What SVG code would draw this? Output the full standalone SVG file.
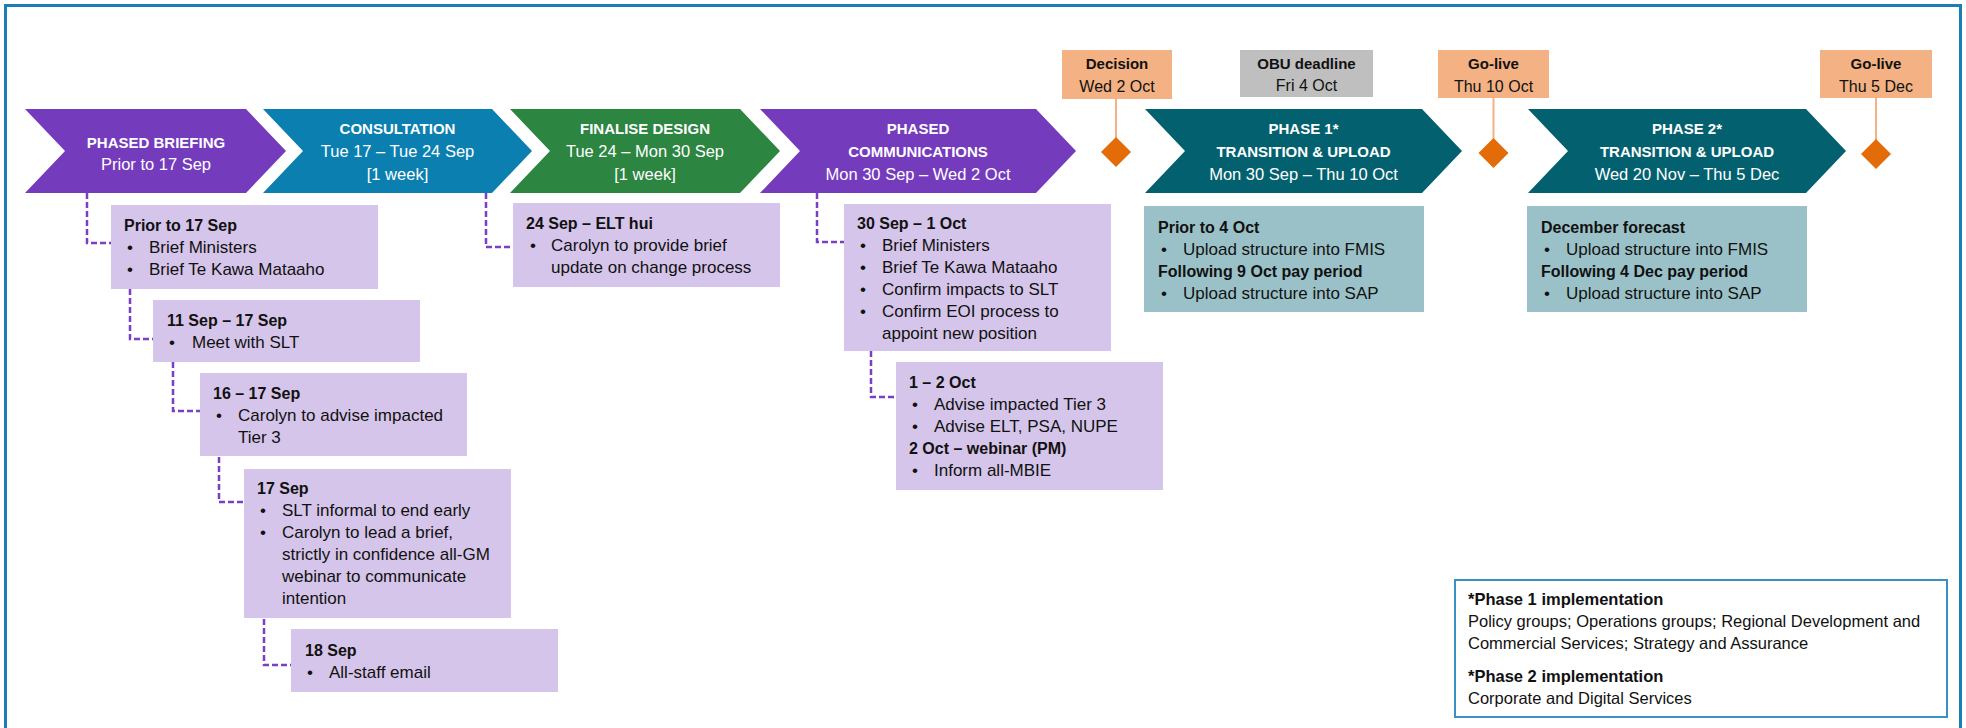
<svg xmlns="http://www.w3.org/2000/svg" width="1966" height="728" viewBox="0 0 1966 728">
<defs>
<style>
text{font-family:"Liberation Sans",Arial,sans-serif;}
.ch{fill:#fff;text-anchor:middle;}
.cht{font-weight:bold;font-size:15px;}
.chd{font-size:16.5px;}
.bx{fill:#d5c5ea;}
.tb{fill:#9bc1c8;}
.bt{font-weight:bold;font-size:16px;fill:#111;}
.bl{font-size:17px;fill:#111;}
.ms{fill:#f4b183;}
.mt{font-weight:bold;font-size:15px;fill:#111;text-anchor:middle;}
.md{font-size:16px;fill:#111;text-anchor:middle;}
.dash{fill:none;stroke:#7b3fc6;stroke-width:2.5;stroke-dasharray:6 3;}
.ml{stroke:#f4b183;stroke-width:2;}
.dia{fill:#e36c09;}
.lt{font-size:16.5px;fill:#111;}
</style>
</defs>
<rect x="5.5" y="5.5" width="1955" height="760" fill="#fff" stroke="#1a7fb5" stroke-width="3"/>

<g id="connectors">
<path class="dash" d="M87,193 V243 H111"/>
<path class="dash" d="M130,289 V339 H153"/>
<path class="dash" d="M173,362 V411 H200"/>
<path class="dash" d="M219,457 V502 H244"/>
<path class="dash" d="M264,619 V665 H291"/>
<path class="dash" d="M486,193 V247 H513"/>
<path class="dash" d="M817,193 V242 H844"/>
<path class="dash" d="M871,351 V397 H896"/>
<line class="ml" x1="1116" y1="99" x2="1116" y2="138"/>
<line class="ml" x1="1493.5" y1="98" x2="1493.5" y2="139"/>
<line class="ml" x1="1876" y1="98" x2="1876" y2="140"/>
</g>

<g id="chev-briefing">
<polygon points="25,109 246,109 286,151 246,193 25,193 65,151" fill="#753bbd"/>
<text class="ch cht" x="156" y="148">PHASED BRIEFING</text>
<text class="ch chd" x="156" y="170">Prior to 17 Sep</text>
</g>
<g id="chev-consultation">
<polygon points="263,109 492,109 532,151 492,193 263,193 303,151" fill="#0a7fb0"/>
<text class="ch cht" x="397.5" y="134">CONSULTATION</text>
<text class="ch chd" x="397.5" y="157">Tue 17 – Tue 24 Sep</text>
<text class="ch chd" x="397.5" y="180">[1 week]</text>
</g>
<g id="chev-finalise">
<polygon points="510,109 740,109 780,151 740,193 510,193 550,151" fill="#2c8540"/>
<text class="ch cht" x="645" y="134">FINALISE DESIGN</text>
<text class="ch chd" x="645" y="157">Tue 24 – Mon 30 Sep</text>
<text class="ch chd" x="645" y="180">[1 week]</text>
</g>
<g id="chev-comms">
<polygon points="760,109 1036,109 1076,151 1036,193 760,193 800,151" fill="#753bbd"/>
<text class="ch cht" x="918" y="134">PHASED</text>
<text class="ch cht" x="918" y="157">COMMUNICATIONS</text>
<text class="ch chd" x="918" y="180">Mon 30 Sep – Wed 2 Oct</text>
</g>
<g id="chev-phase1">
<polygon points="1145,109 1422,109 1462,151 1422,193 1145,193 1185,151" fill="#03616f"/>
<text class="ch cht" x="1303.5" y="134">PHASE 1*</text>
<text class="ch cht" x="1303.5" y="157">TRANSITION &amp; UPLOAD</text>
<text class="ch chd" x="1303.5" y="180">Mon 30 Sep – Thu 10 Oct</text>
</g>
<g id="chev-phase2">
<polygon points="1528,109 1806,109 1846,151 1806,193 1528,193 1568,151" fill="#03616f"/>
<text class="ch cht" x="1687" y="134">PHASE 2*</text>
<text class="ch cht" x="1687" y="157">TRANSITION &amp; UPLOAD</text>
<text class="ch chd" x="1687" y="180">Wed 20 Nov – Thu 5 Dec</text>
</g>

<g id="ms-decision">
<rect class="ms" x="1062" y="50" width="110" height="49"/>
<text class="mt" x="1117" y="69">Decision</text>
<text class="md" x="1117" y="92">Wed 2 Oct</text>
<polygon class="dia" points="1116,137 1131,152 1116,167 1101,152"/>
</g>
<g id="ms-obu">
<rect x="1240" y="50" width="133" height="47" fill="#bfbfbf"/>
<text class="mt" x="1306.5" y="69">OBU deadline</text>
<text class="md" x="1306.5" y="91">Fri 4 Oct</text>
</g>
<g id="ms-golive1">
<rect class="ms" x="1438" y="50" width="111" height="48"/>
<text class="mt" x="1493.5" y="69">Go-live</text>
<text class="md" x="1493.5" y="92">Thu 10 Oct</text>
<polygon class="dia" points="1493.5,138 1508.5,153 1493.5,168 1478.5,153"/>
</g>
<g id="ms-golive2">
<rect class="ms" x="1820" y="50" width="112" height="48"/>
<text class="mt" x="1876" y="69">Go-live</text>
<text class="md" x="1876" y="92">Thu 5 Dec</text>
<polygon class="dia" points="1876,139 1891,154 1876,169 1861,154"/>
</g>

<g id="box-prior17">
<rect class="bx" x="111" y="205" width="267" height="84"/>
<text class="bt" x="124" y="231">Prior to 17 Sep</text>
<text class="bl" x="127" y="253">•</text><text class="bl" x="149" y="253">Brief Ministers</text>
<text class="bl" x="127" y="275">•</text><text class="bl" x="149" y="275">Brief Te Kawa Mataaho</text>
</g>
<g id="box-11sep">
<rect class="bx" x="153" y="300" width="267" height="62"/>
<text class="bt" x="167" y="326">11 Sep – 17 Sep</text>
<text class="bl" x="169" y="348">•</text><text class="bl" x="192" y="348">Meet with SLT</text>
</g>
<g id="box-16sep">
<rect class="bx" x="200" y="373" width="267" height="83"/>
<text class="bt" x="213" y="399">16 – 17 Sep</text>
<text class="bl" x="216" y="421">•</text><text class="bl" x="238" y="421">Carolyn to advise impacted</text>
<text class="bl" x="238" y="443">Tier 3</text>
</g>
<g id="box-17sep">
<rect class="bx" x="244" y="469" width="267" height="149"/>
<text class="bt" x="257" y="494">17 Sep</text>
<text class="bl" x="260" y="516">•</text><text class="bl" x="282" y="516">SLT informal to end early</text>
<text class="bl" x="260" y="538">•</text><text class="bl" x="282" y="538">Carolyn to lead a brief,</text>
<text class="bl" x="282" y="560">strictly in confidence all-GM</text>
<text class="bl" x="282" y="582">webinar to communicate</text>
<text class="bl" x="282" y="604">intention</text>
</g>
<g id="box-18sep">
<rect class="bx" x="291" y="629" width="267" height="63"/>
<text class="bt" x="305" y="656">18 Sep</text>
<text class="bl" x="307" y="678">•</text><text class="bl" x="329" y="678">All-staff email</text>
</g>
<g id="box-24sep">
<rect class="bx" x="513" y="203" width="267" height="84"/>
<text class="bt" x="526" y="229">24 Sep – ELT hui</text>
<text class="bl" x="530" y="251">•</text><text class="bl" x="551" y="251">Carolyn to provide brief</text>
<text class="bl" x="551" y="273">update on change process</text>
</g>
<g id="box-30sep">
<rect class="bx" x="844" y="204" width="267" height="147"/>
<text class="bt" x="857" y="229">30 Sep – 1 Oct</text>
<text class="bl" x="860" y="251">•</text><text class="bl" x="882" y="251">Brief Ministers</text>
<text class="bl" x="860" y="273">•</text><text class="bl" x="882" y="273">Brief Te Kawa Mataaho</text>
<text class="bl" x="860" y="295">•</text><text class="bl" x="882" y="295">Confirm impacts to SLT</text>
<text class="bl" x="860" y="317">•</text><text class="bl" x="882" y="317">Confirm EOI process to</text>
<text class="bl" x="882" y="339">appoint new position</text>
</g>
<g id="box-1oct">
<rect class="bx" x="896" y="362" width="267" height="128"/>
<text class="bt" x="909" y="388">1 – 2 Oct</text>
<text class="bl" x="912" y="410">•</text><text class="bl" x="934" y="410">Advise impacted Tier 3</text>
<text class="bl" x="912" y="432">•</text><text class="bl" x="934" y="432">Advise ELT, PSA, NUPE</text>
<text class="bt" x="909" y="454">2 Oct – webinar (PM)</text>
<text class="bl" x="912" y="476">•</text><text class="bl" x="934" y="476">Inform all-MBIE</text>
</g>
<g id="box-phase1">
<rect class="tb" x="1144" y="206" width="280" height="106"/>
<text class="bt" x="1158" y="233">Prior to 4 Oct</text>
<text class="bl" x="1161" y="255">•</text><text class="bl" x="1183" y="255">Upload structure into FMIS</text>
<text class="bt" x="1158" y="277">Following 9 Oct pay period</text>
<text class="bl" x="1161" y="299">•</text><text class="bl" x="1183" y="299">Upload structure into SAP</text>
</g>
<g id="box-phase2">
<rect class="tb" x="1527" y="206" width="280" height="106"/>
<text class="bt" x="1541" y="233">December forecast</text>
<text class="bl" x="1544" y="255">•</text><text class="bl" x="1566" y="255">Upload structure into FMIS</text>
<text class="bt" x="1541" y="277">Following 4 Dec pay period</text>
<text class="bl" x="1544" y="299">•</text><text class="bl" x="1566" y="299">Upload structure into SAP</text>
</g>

<g id="legend">
<rect x="1455" y="580" width="492" height="137" fill="#fff" stroke="#3a8fc4" stroke-width="2"/>
<text class="lt" x="1468" y="605" font-weight="bold">*Phase 1 implementation</text>
<text class="lt" x="1468" y="627">Policy groups; Operations groups; Regional Development and</text>
<text class="lt" x="1468" y="649">Commercial Services; Strategy and Assurance</text>
<text class="lt" x="1468" y="682" font-weight="bold">*Phase 2 implementation</text>
<text class="lt" x="1468" y="704">Corporate and Digital Services</text>
</g>
</svg>
